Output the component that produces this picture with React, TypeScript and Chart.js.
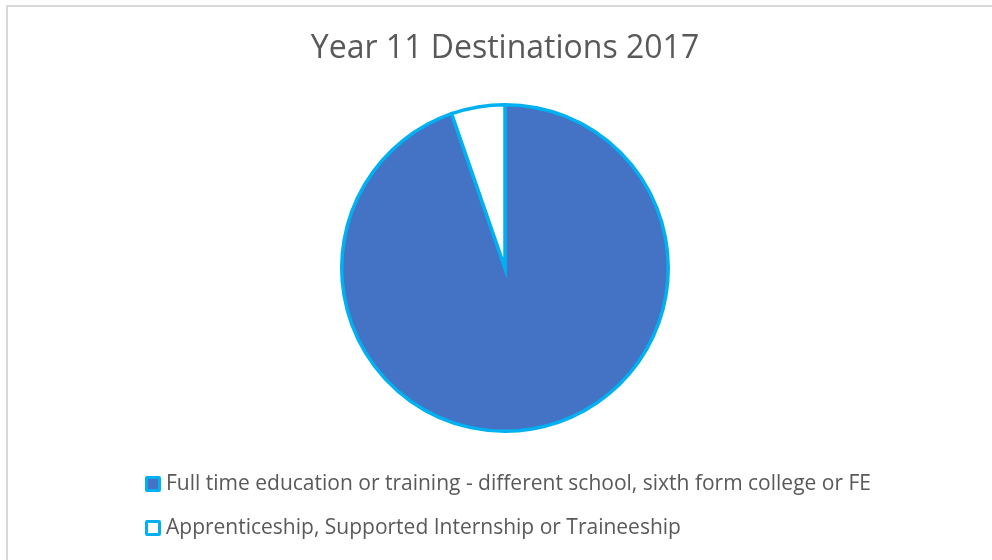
import React, { useEffect, useRef } from "react";
import { Chart, registerables } from "chart.js";

Chart.register(...registerables);

const title = "Year 11 Destinations 2017";
const categories = [
  "Full time education or training - different school, sixth form college or FE",
  "Apprenticeship, Supported Internship or Traineeship",
];
const values = [94.7, 5.3];
const fillColors = ["#4472C4", "#FFFFFF"];
const borderColor = "#00B0F0";

const FONT = "'Open Sans', sans-serif";
const TEXT_COLOR = "#595959";

const overlayPlugin = {
  id: "overlay",
  afterDraw(chart: any) {
    const ctx = chart.ctx as CanvasRenderingContext2D;
    ctx.save();
    // title
    ctx.fillStyle = TEXT_COLOR;
    ctx.font = `32px ${FONT}`;
    ctx.textAlign = "center";
    ctx.textBaseline = "alphabetic";
    ctx.fillText(title, 505, 58);

    // legend
    const labels: string[] = chart.data.labels;
    const ds = chart.data.datasets[0];
    const rowBaselines = [490, 534];
    ctx.textAlign = "left";
    ctx.font = `21px ${FONT}`;
    labels.forEach((lab, i) => {
      const base = rowBaselines[i];
      const bx = 145;
      const by = base - 14;
      const bs = 16;
      ctx.fillStyle = ds.borderColor;
      ctx.beginPath();
      (ctx as any).roundRect(bx, by, bs, bs, 2);
      ctx.fill();
      ctx.fillStyle = ds.backgroundColor[i];
      ctx.fillRect(bx + 3, by + 3, bs - 6, bs - 6);
      ctx.fillStyle = TEXT_COLOR;
      ctx.fillText(lab, 166, base);
    });
    ctx.restore();
  },
};

export default function App() {
  const ref = useRef<HTMLCanvasElement | null>(null);
  useEffect(() => {
    if (!ref.current) return;
    const chart = new Chart(ref.current, {
      type: "pie",
      data: {
        labels: categories,
        datasets: [
          {
            data: values,
            backgroundColor: fillColors,
            borderColor: borderColor,
            borderWidth: 3.5,
            borderJoinStyle: "miter",
          },
        ],
      },
      options: {
        animation: false,
        responsive: false,
        devicePixelRatio: 1,
        layout: { padding: { top: 103, bottom: 127, left: 340, right: 322 } },
        plugins: {
          legend: { display: false },
          title: { display: false },
          tooltip: { enabled: false },
        },
      },
      plugins: [overlayPlugin],
    });
    return () => chart.destroy();
  }, []);

  return (
    <div
      style={{
        position: "fixed",
        left: 0,
        top: 0,
        width: 992,
        height: 560,
        background: "#fff",
        overflow: "hidden",
      }}
    >
      <div
        style={{
          position: "absolute",
          left: 6,
          top: 5,
          width: 1000,
          height: 600,
          borderLeft: "2px solid #D9D9D9",
          borderTop: "2px solid #D9D9D9",
        }}
      />
      <canvas
        ref={ref}
        width={992}
        height={560}
        style={{ position: "absolute", left: 0, top: 0, width: 992, height: 560 }}
      />
    </div>
  );
}
